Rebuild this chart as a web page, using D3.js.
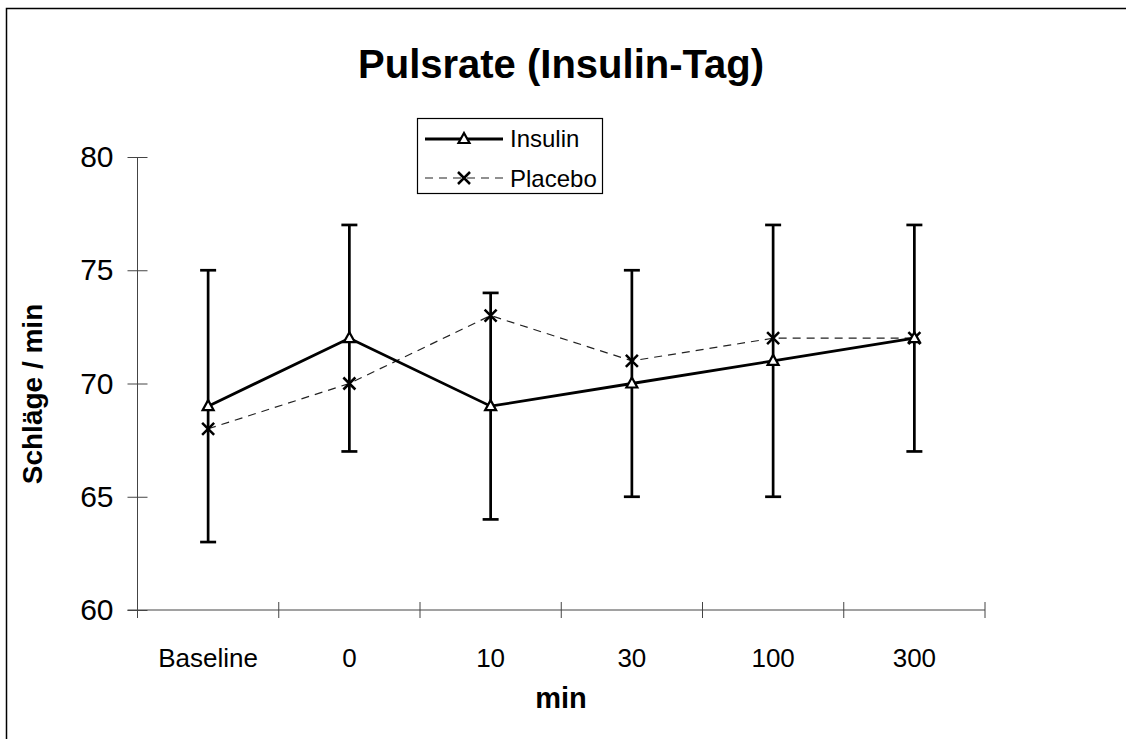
<!DOCTYPE html>
<html><head><meta charset="utf-8">
<script src="https://cdn.jsdelivr.net/npm/d3@7"></script>
<style>body{margin:0;background:#fff}svg{display:block}text{font-family:"Liberation Sans",Arial,sans-serif}</style>
</head><body>
<svg id="c" width="1126" height="739"></svg>
<script>
const categories = ["Baseline","0","10","30","100","300"];
const insulin = [69,72,69,70,71,72];
const insulinLow = [63,67,64,65,65,67];
const insulinHigh = [75,77,74,75,77,77];
const placebo = [68,70,73,71,72,72];
const yTicks = [60,65,70,75,80];

const svg = d3.select("#c");
svg.append("rect").attr("x",6.5).attr("y",8.5).attr("width",1200).attr("height",800)
  .attr("fill","none").attr("stroke","#000").attr("stroke-width",1.5);

const L=137.5, R=985, T=157, B=610;
const x = d3.scaleBand().domain(categories).range([L,R]);
const y = d3.scaleLinear().domain([60,80]).range([B,T]);
const cx = d => x(d)+x.bandwidth()/2;

// title
svg.append("text").attr("x",561).attr("y",78).attr("text-anchor","middle")
  .attr("font-size",40).attr("font-weight","bold").text("Pulsrate (Insulin-Tag)");

// y axis
const ya = svg.append("g").attr("transform",`translate(${L},0)`)
  .call(d3.axisLeft(y).tickValues(yTicks).tickSize(10).tickPadding(14));
ya.select(".domain").remove();
ya.append("line").attr("x1",0).attr("x2",0).attr("y1",T).attr("y2",B).attr("stroke","#444");
ya.selectAll(".tick line").attr("x2",10).attr("x1",-10).attr("stroke","#444");
ya.selectAll(".tick text").attr("font-size",30).attr("fill","#000").attr("font-family","Liberation Sans, Arial, sans-serif");

// x axis
const edges = categories.map(c=>x(c)).concat([R]);
const xa = svg.append("g");
xa.append("line").attr("x1",L-10).attr("x2",R).attr("y1",B).attr("y2",B).attr("stroke","#444");
xa.selectAll("line.t").data(edges).join("line").attr("class","t")
  .attr("x1",d=>d).attr("x2",d=>d).attr("y1",B-8).attr("y2",B+8).attr("stroke","#444");
xa.selectAll("text").data(categories).join("text")
  .attr("x",d=>cx(d)).attr("y",667).attr("text-anchor","middle").attr("font-size",26).text(d=>d);

// axis titles
svg.append("text").attr("x",561).attr("y",708).attr("text-anchor","middle")
  .attr("font-size",29).attr("font-weight","bold").text("min");
svg.append("text").attr("transform","translate(42,394) rotate(-90)").attr("text-anchor","middle")
  .attr("font-size",28).attr("font-weight","bold").text("Schläge / min");

// error bars
const eb = svg.append("g").attr("stroke","#000").attr("stroke-width",2.7);
categories.forEach((c,i)=>{
  eb.append("line").attr("x1",cx(c)).attr("x2",cx(c)).attr("y1",y(insulinLow[i])).attr("y2",y(insulinHigh[i]));
  eb.append("line").attr("x1",cx(c)-8).attr("x2",cx(c)+8).attr("y1",y(insulinLow[i])).attr("y2",y(insulinLow[i]));
  eb.append("line").attr("x1",cx(c)-8).attr("x2",cx(c)+8).attr("y1",y(insulinHigh[i])).attr("y2",y(insulinHigh[i]));
});

// placebo line
const line = d3.line().x((d,i)=>cx(categories[i])).y(d=>y(d));
svg.append("path").datum(placebo).attr("d",line).attr("fill","none")
  .attr("stroke","#222").attr("stroke-width",1.2).attr("stroke-dasharray","8,6");
// insulin line
svg.append("path").datum(insulin).attr("d",line).attr("fill","none")
  .attr("stroke","#000").attr("stroke-width",2.8);

function tri(g,px,py){
  g.append("path").attr("d",`M${px},${py-6}L${px+5.5},${py+4}L${px-5.5},${py+4}Z`)
   .attr("fill","#fff").attr("stroke","#000").attr("stroke-width",2.2);
}
function cross(g,px,py){
  g.append("path").attr("d",`M${px-6},${py-6}L${px+6},${py+6}M${px+6},${py-6}L${px-6},${py+6}`)
   .attr("stroke","#000").attr("stroke-width",2.5);
}
const mk = svg.append("g");
placebo.forEach((v,i)=>cross(mk,cx(categories[i]),y(v)));
insulin.forEach((v,i)=>tri(mk,cx(categories[i]),y(v)));

// legend
const lg = svg.append("g");
lg.append("rect").attr("x",417.5).attr("y",118.5).attr("width",185).attr("height",75)
  .attr("fill","#fff").attr("stroke","#000").attr("stroke-width",1.2);
lg.append("line").attr("x1",425).attr("x2",503).attr("y1",139).attr("y2",139).attr("stroke","#000").attr("stroke-width",2.8);
tri(lg,464,139);
lg.append("line").attr("x1",425).attr("x2",503).attr("y1",178).attr("y2",178).attr("stroke","#222").attr("stroke-width",1.2).attr("stroke-dasharray","8,6");
cross(lg,464,178);
lg.append("text").attr("x",510).attr("y",147).attr("font-size",24).text("Insulin");
lg.append("text").attr("x",510).attr("y",187).attr("font-size",24).text("Placebo");
</script>
</body></html>
